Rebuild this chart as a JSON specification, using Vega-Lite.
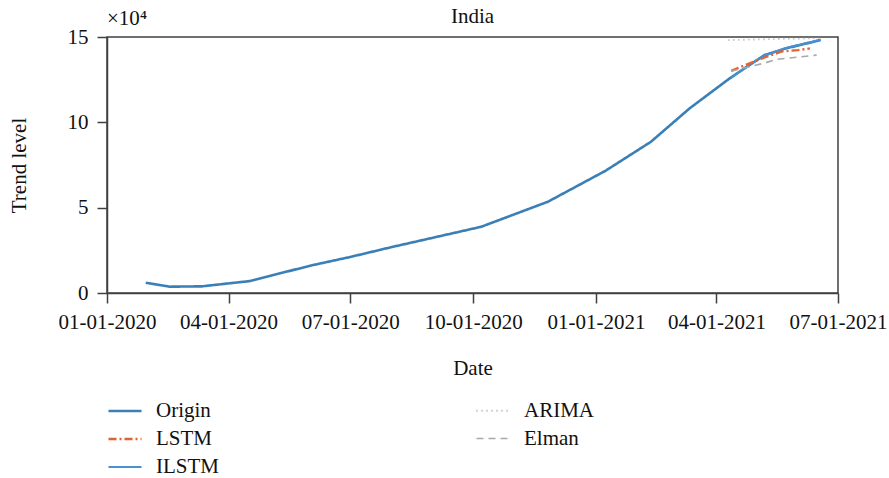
{
  "$schema": "https://vega.github.io/schema/vega-lite/v6.json",
  "width": 731,
  "height": 256,
  "autosize": {"type": "none"},
  "padding": {"left": 107, "top": 37, "right": 51, "bottom": 185},
  "background": "white",
  "title": {"text": "India", "fontSize": 21, "font": "Liberation Serif", "fontWeight": "normal", "color": "#111", "frame": "group", "baseline": "alphabetic", "offset": 0, "dy": 36},
  "config": {
    "font": "Liberation Serif",
    "view": {"stroke": "#404040", "strokeWidth": 1.5},
    "axis": {"domainColor": "#404040", "domainWidth": 1.5, "tickColor": "#404040", "tickWidth": 1.5, "tickSize": 10, "labelFontSize": 21, "labelColor": "#111", "titleFontSize": 21, "titleFontWeight": "normal", "titleColor": "#111", "grid": false, "labelFont": "Liberation Serif", "titleFont": "Liberation Serif"},
    "legend": {"orient": "none", "legendX": 0, "legendY": 356, "columns": 2, "columnPadding": 253, "rowPadding": 0, "padding": 0, "symbolSize": 1089, "symbolStrokeWidth": 1.8, "labelFontSize": 21, "labelFont": "Liberation Serif", "labelColor": "#111", "labelOffset": 13, "symbolType": "stroke"}
  },
  "data": {"values": [
    {"series": "Origin", "date": "2020-01-30", "value": 6000},
    {"series": "Origin", "date": "2020-02-17", "value": 3700},
    {"series": "Origin", "date": "2020-03-12", "value": 3900},
    {"series": "Origin", "date": "2020-04-17", "value": 7000},
    {"series": "Origin", "date": "2020-06-01", "value": 16000},
    {"series": "Origin", "date": "2020-07-01", "value": 21100},
    {"series": "Origin", "date": "2020-08-01", "value": 26900},
    {"series": "Origin", "date": "2020-09-01", "value": 32400},
    {"series": "Origin", "date": "2020-10-07", "value": 38800},
    {"series": "Origin", "date": "2020-11-26", "value": 53500},
    {"series": "Origin", "date": "2021-01-08", "value": 71600},
    {"series": "Origin", "date": "2021-02-11", "value": 88600},
    {"series": "Origin", "date": "2021-03-12", "value": 108200},
    {"series": "Origin", "date": "2021-04-11", "value": 125800},
    {"series": "Origin", "date": "2021-05-07", "value": 139400},
    {"series": "Origin", "date": "2021-05-23", "value": 143300},
    {"series": "Origin", "date": "2021-06-18", "value": 148200},
    {"series": "ILSTM", "date": "2021-04-12", "value": 126000},
    {"series": "ILSTM", "date": "2021-04-25", "value": 133500},
    {"series": "ILSTM", "date": "2021-05-07", "value": 139000},
    {"series": "ILSTM", "date": "2021-05-23", "value": 143600},
    {"series": "ILSTM", "date": "2021-06-18", "value": 148400},
    {"series": "LSTM", "date": "2021-04-12", "value": 130200},
    {"series": "LSTM", "date": "2021-04-24", "value": 134000},
    {"series": "LSTM", "date": "2021-05-07", "value": 138000},
    {"series": "LSTM", "date": "2021-05-20", "value": 141500},
    {"series": "LSTM", "date": "2021-06-01", "value": 142300},
    {"series": "LSTM", "date": "2021-06-10", "value": 143300},
    {"series": "Elman", "date": "2021-04-12", "value": 130000},
    {"series": "Elman", "date": "2021-05-07", "value": 134700},
    {"series": "Elman", "date": "2021-05-16", "value": 136900},
    {"series": "Elman", "date": "2021-06-15", "value": 139400},
    {"series": "ARIMA", "date": "2021-04-10", "value": 148200},
    {"series": "ARIMA", "date": "2021-05-15", "value": 148800},
    {"series": "ARIMA", "date": "2021-06-19", "value": 149300}
  ]},
  "layer": [
    {
      "mark": {"type": "line", "interpolate": "linear"},
      "encoding": {
        "x": {"field": "date", "type": "temporal",
          "scale": {"type": "utc", "nice": false, "domain": [{"year": 2020, "month": 1, "date": 1, "utc": true}, {"year": 2021, "month": 7, "date": 1, "utc": true}]},
          "axis": {"title": "Date", "values": [
            {"year": 2020, "month": 1, "date": 1, "utc": true},
            {"year": 2020, "month": 4, "date": 1, "utc": true},
            {"year": 2020, "month": 7, "date": 1, "utc": true},
            {"year": 2020, "month": 10, "date": 1, "utc": true},
            {"year": 2021, "month": 1, "date": 1, "utc": true},
            {"year": 2021, "month": 4, "date": 1, "utc": true},
            {"year": 2021, "month": 7, "date": 1, "utc": true}],
            "labelExpr": "utcFormat(datum.value, '%m-%d-%Y')", "labelPadding": 8, "titlePadding": 25, "labelOverlap": false, "labelFlush": false}},
        "y": {"field": "value", "type": "quantitative", "scale": {"domain": [0, 150000], "nice": false},
          "axis": {"title": "Trend level", "values": [0, 50000, 100000, 150000], "labelExpr": "datum.value / 10000", "labelPadding": 9, "titlePadding": 38}},
        "color": {"field": "series", "type": "nominal",
          "scale": {"domain": ["Origin", "LSTM", "ILSTM", "ARIMA", "Elman"], "range": ["#3b7fb7", "#e4622f", "#4a8fd0", "#a8a8a8", "#a8a8a8"]},
          "legend": {"title": null}},
        "strokeDash": {"field": "series", "type": "nominal",
          "scale": {"domain": ["Origin", "LSTM", "ILSTM", "ARIMA", "Elman"], "range": [[1, 0], [8, 3, 2, 3], [1, 0], [1, 4], [7, 5]]},
          "legend": {"title": null}},
        "strokeWidth": {"field": "series", "type": "nominal",
          "scale": {"domain": ["Origin", "LSTM", "ILSTM", "ARIMA", "Elman"], "range": [2.6, 1.6, 3, 1.3, 1.6]},
          "legend": null}
      }
    },
    {
      "data": {"values": [{"label": "×10⁴"}]},
      "mark": {"type": "text", "align": "left", "baseline": "alphabetic", "dy": -12, "fontSize": 21, "font": "Liberation Serif", "color": "#111"},
      "encoding": {
        "x": {"datum": {"year": 2020, "month": 1, "date": 1, "utc": true}, "type": "temporal"},
        "y": {"datum": 150000, "type": "quantitative"},
        "text": {"field": "label"}
      }
    }
  ]
}
